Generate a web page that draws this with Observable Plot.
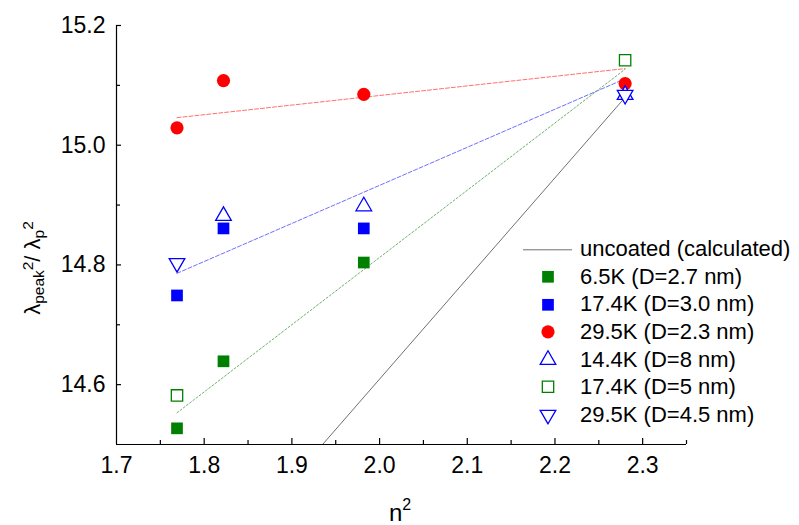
<!DOCTYPE html>
<html><head><meta charset="utf-8">
<script src="https://cdn.jsdelivr.net/npm/d3@7"></script>
<script src="https://cdn.jsdelivr.net/npm/@observablehq/plot@0.6"></script>
<style>
body{margin:0;background:#fff;}
#wrap{position:relative;width:799px;height:525px;font-family:"Liberation Sans",Arial,sans-serif;}
#legend{position:absolute;left:520px;top:235.5px;font-size:22px;color:#000;}
.row{display:flex;align-items:center;height:27.6px;white-space:nowrap;}
.row svg{flex:none;}
</style></head><body><div id="wrap"></div>
<script>
// refractive index squared (x)
const n2 = [1.769, 1.822, 1.982, 2.280];
// series values (lambda_peak^2 / lambda_p^2)
const s65K = [14.527, 14.639, 14.804, null];
const s174K = [14.749, 14.861, 14.861, null];
const s295K = [15.029, 15.108, 15.085, 15.103];
const s144Kb = [null, 14.882, 14.898, 15.084];
const s174Kb = [14.582, null, null, 15.142];
const s295Kb = [14.803, null, null, 15.084];
// linear fits (endpoints)
const fitX = [1.769, 2.280];
const fitRed = [15.046, 15.128];
const fitBlue = [14.786, 15.111];
const fitGreen = [14.553, 15.127];
// uncoated (calculated)
const uncoatedX = [1.935, 2.280];
const uncoatedY = [14.5, 15.08];
// ticks
const xLabels = [1.7, 1.8, 1.9, 2.0, 2.1, 2.2, 2.3];
const xMajor = [1.8, 1.9, 2.0, 2.1, 2.2, 2.3];
const xMinor = [1.75, 1.85, 1.95, 2.05, 2.15, 2.25, 2.35];
const yLabels = [14.6, 14.8, 15.0, 15.2];
const yMinor = [14.7, 14.9, 15.1];
const legendLabels = ["uncoated (calculated)", "6.5K (D=2.7 nm)", "17.4K (D=3.0 nm)", "29.5K (D=2.3 nm)", "14.4K (D=8 nm)", "17.4K (D=5 nm)", "29.5K (D=4.5 nm)"];

const GREEN = "#008000", BLUE = "#0000ff", RED = "#ff0000";
const fmt = d3.format(".1f");

const chart = Plot.plot({
  width: 799, height: 525,
  marginLeft: 116, marginRight: 113, marginTop: 25, marginBottom: 81,
  style: {fontFamily: '"Liberation Sans", Arial, sans-serif', fontSize: "23px", color: "#000", background: "white"},
  x: {domain: [1.7, 2.35]},
  y: {domain: [14.5, 15.2]},
  marks: [
    Plot.line(fitX, {x: fitX, y: fitRed, stroke: "#ff7070", strokeWidth: 1, strokeDasharray: "4,2"}),
    Plot.line(fitX, {x: fitX, y: fitBlue, stroke: "#7070ff", strokeWidth: 1, strokeDasharray: "4,2"}),
    Plot.line(fitX, {x: fitX, y: fitGreen, stroke: "#70b070", strokeWidth: 1, strokeDasharray: "2,2"}),
    Plot.line(uncoatedX, {x: uncoatedX, y: uncoatedY, stroke: "#707070", strokeWidth: 1}),
    Plot.ruleX([1.7], {stroke: "#000", strokeWidth: 1.2}),
    Plot.ruleY([14.5], {stroke: "#000", strokeWidth: 1.2}),
    Plot.axisX({ticks: xMajor, tickSize: 6, dy: -6, fill: "none", label: null, strokeWidth: 1.2}),
    Plot.axisX({ticks: xMinor, tickSize: 4, dy: -4, fill: "none", label: null, strokeWidth: 1.2}),
    Plot.axisX({ticks: xLabels, tickSize: 0, tickPadding: 12, tickFormat: fmt, label: null}),
    Plot.axisY({ticks: yLabels, tickSize: 5, dx: 5, fill: "none", label: null, strokeWidth: 1.2}),
    Plot.axisY({ticks: yMinor, tickSize: 4, dx: 4, fill: "none", label: null, strokeWidth: 1.2}),
    Plot.axisY({ticks: yLabels, tickSize: 0, tickPadding: 11, tickFormat: fmt, label: null}),
    Plot.dot(n2, {x: n2, y: s65K, symbol: "square", r: 6.6, fill: GREEN}),
    Plot.dot(n2, {x: n2, y: s174K, symbol: "square", r: 6.6, fill: BLUE}),
    Plot.dot(n2, {x: n2, y: s295K, symbol: "circle", r: 6.6, fill: RED}),
    Plot.dot(n2, {x: n2, y: s144Kb, symbol: "triangle", r: 5.8, fill: "white", stroke: BLUE, strokeWidth: 1.3}),
    Plot.dot(n2, {x: n2, y: s174Kb, symbol: "square", r: 6.4, fill: "white", stroke: GREEN, strokeWidth: 1.3}),
    Plot.dot(n2, {x: n2, y: s295Kb, symbol: "triangle", r: 5.8, rotate: 180, fill: "white", stroke: BLUE, strokeWidth: 1.3})
  ]
});

const svg = d3.select(chart);
// y title
const yt = svg.append("text")
  .attr("transform", "translate(40,268) rotate(-90)")
  .attr("text-anchor", "middle").attr("fill", "#000")
  .style("font-size", "22px");
yt.append("tspan").text("λ");
yt.append("tspan").style("font-size", "15.5px").attr("dy", 4).text("peak");
yt.append("tspan").style("font-size", "15.5px").attr("dy", -11).text("2");
yt.append("tspan").attr("dy", 7).text("/ λ");
yt.append("tspan").style("font-size", "15.5px").attr("dy", 4).text("p");
yt.append("tspan").style("font-size", "15.5px").attr("dy", -11).text("2");
// x title
const xt = svg.append("text")
  .attr("transform", "translate(400,521)")
  .attr("text-anchor", "middle").attr("fill", "#000")
  .style("font-size", "24px");
xt.append("tspan").text("n");
xt.append("tspan").style("font-size", "16px").attr("dy", -11).text("2");

const wrap = document.getElementById("wrap");
wrap.appendChild(chart);

// legend
const legend = d3.select(wrap).append("div").attr("id", "legend");
const sym = (type, r) => d3.symbol(type, r * r * Math.PI)();
const legendSymbols = [
  g => g.append("line").attr("x1", 3).attr("x2", 52).attr("y1", 13.8).attr("y2", 13.8).attr("stroke", "#707070").attr("stroke-width", 1),
  g => g.append("path").attr("d", sym(d3.symbolSquare, 6.6)).attr("transform", "translate(28,13.8)").attr("fill", GREEN),
  g => g.append("path").attr("d", sym(d3.symbolSquare, 6.6)).attr("transform", "translate(28,13.8)").attr("fill", BLUE),
  g => g.append("path").attr("d", sym(d3.symbolCircle, 6.6)).attr("transform", "translate(28,13.8)").attr("fill", RED),
  g => g.append("path").attr("d", sym(d3.symbolTriangle, 5.8)).attr("transform", "translate(28,13.8)").attr("fill", "white").attr("stroke", BLUE).attr("stroke-width", 1.3),
  g => g.append("path").attr("d", sym(d3.symbolSquare, 6.4)).attr("transform", "translate(28,13.8)").attr("fill", "white").attr("stroke", GREEN).attr("stroke-width", 1.3),
  g => g.append("path").attr("d", sym(d3.symbolTriangle, 5.8)).attr("transform", "translate(28,13.8) rotate(180)").attr("fill", "white").attr("stroke", BLUE).attr("stroke-width", 1.3)
];
legendLabels.forEach((lab, i) => {
  const row = legend.append("div").attr("class", "row");
  const s = row.append("svg").attr("width", 60).attr("height", 27.6);
  legendSymbols[i](s);
  row.append("span").text(lab);
});
</script></body></html>
